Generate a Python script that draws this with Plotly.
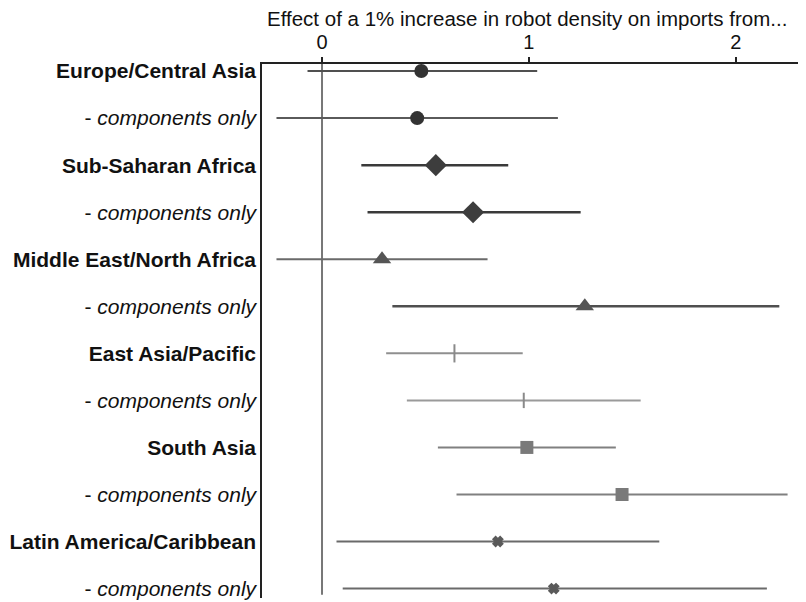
import plotly.graph_objects as go

labels = ["Europe/Central Asia", "- components only", "Sub-Saharan Africa", "- components only",
          "Middle East/North Africa", "- components only", "East Asia/Pacific", "- components only",
          "South Asia", "- components only", "Latin America/Caribbean", "- components only"]
estimate = [0.48, 0.46, 0.55, 0.73, 0.29, 1.27, 0.64, 0.975, 0.99, 1.45, 0.85, 1.12]
ci_low = [-0.07, -0.22, 0.19, 0.22, -0.22, 0.34, 0.31, 0.41, 0.56, 0.65, 0.07, 0.10]
ci_high = [1.04, 1.14, 0.90, 1.25, 0.80, 2.21, 0.97, 1.54, 1.42, 2.25, 1.63, 2.15]
x_ticks = [0, 1, 2]

symbols = ["circle", "circle", "diamond", "diamond", "triangle-up", "triangle-up",
           "line-ns", "line-ns", "square", "square", "x", "x"]
marker_colors = ["#333333", "#333333", "#3d3d3d", "#3d3d3d", "#555555", "#555555",
                 "#8a8a8a", "#8a8a8a", "#7a7a7a", "#7a7a7a", "#5a5a5a", "#5a5a5a"]
line_colors = ["#505050", "#5a5a5a", "#3a3a3a", "#3a3a3a", "#6a6a6a", "#4f4f4f",
               "#8f8f8f", "#9a9a9a", "#808080", "#808080", "#6a6a6a", "#6a6a6a"]
line_widths = [2, 2, 2.5, 2.5, 2, 2.5, 2, 2, 2, 2, 2, 2]
sizes = [14, 14, 17, 17, 16, 16, 13, 11, 13, 13, 8, 8]

fig = go.Figure()
for i in range(len(labels)):
    sym = symbols[i]
    lw = 2 if sym in ("line-ns", "x") else 0
    fig.add_trace(go.Scatter(
        x=[estimate[i]], y=[i], mode="markers",
        error_x=dict(type="data", symmetric=False,
                     array=[ci_high[i] - estimate[i]],
                     arrayminus=[estimate[i] - ci_low[i]],
                     color=line_colors[i], thickness=line_widths[i], width=0),
        marker=dict(symbol=sym, size=sizes[i], color=marker_colors[i],
                    line=dict(color=marker_colors[i], width=lw)),
        showlegend=False, hoverinfo="skip"))

ticktext = []
for lab in labels:
    if lab.startswith("-"):
        ticktext.append("- <i>components only</i>")
    else:
        ticktext.append("<b>" + lab + "</b>")

fig.add_shape(type="line", xref="x", yref="paper", x0=0, x1=0, y0=0.006, y1=1.013,
              line=dict(color="#777777", width=2), layer="below")

fig.update_layout(
    width=798, height=594,
    margin=dict(l=254, r=6, t=56, b=4),
    paper_bgcolor="white", plot_bgcolor="white",
    font=dict(family="Liberation Sans, Arial, sans-serif", size=21, color="#111111"),
    xaxis=dict(side="top", range=[-0.29, 2.31], tickvals=x_ticks, ticktext=[str(t) for t in x_ticks],
               showgrid=False, zeroline=False, showline=True, linecolor="#222222", linewidth=1.5,
               ticks="outside", ticklen=5, tickwidth=1.5, tickcolor="#222222",
               tickfont=dict(size=20), automargin=False, ticklabeloverflow="allow"),
    yaxis=dict(range=[11.2, -0.15], tickvals=list(range(len(labels))), ticktext=ticktext,
               showgrid=False, zeroline=False, showline=True, linecolor="#222222", linewidth=1.5,
               ticks="", ticklabelstandoff=0, tickfont=dict(size=21), automargin=False,
               ticklabeloverflow="allow"),
    annotations=[dict(text="Effect of a 1% increase in robot density on imports from...",
                      xref="paper", x=0.5, yref="paper", y=1.0, yanchor="bottom", yshift=32,
                      xshift=-4, xanchor="center", showarrow=False, font=dict(size=20.5))],
)

fig.write_html("out.html")
